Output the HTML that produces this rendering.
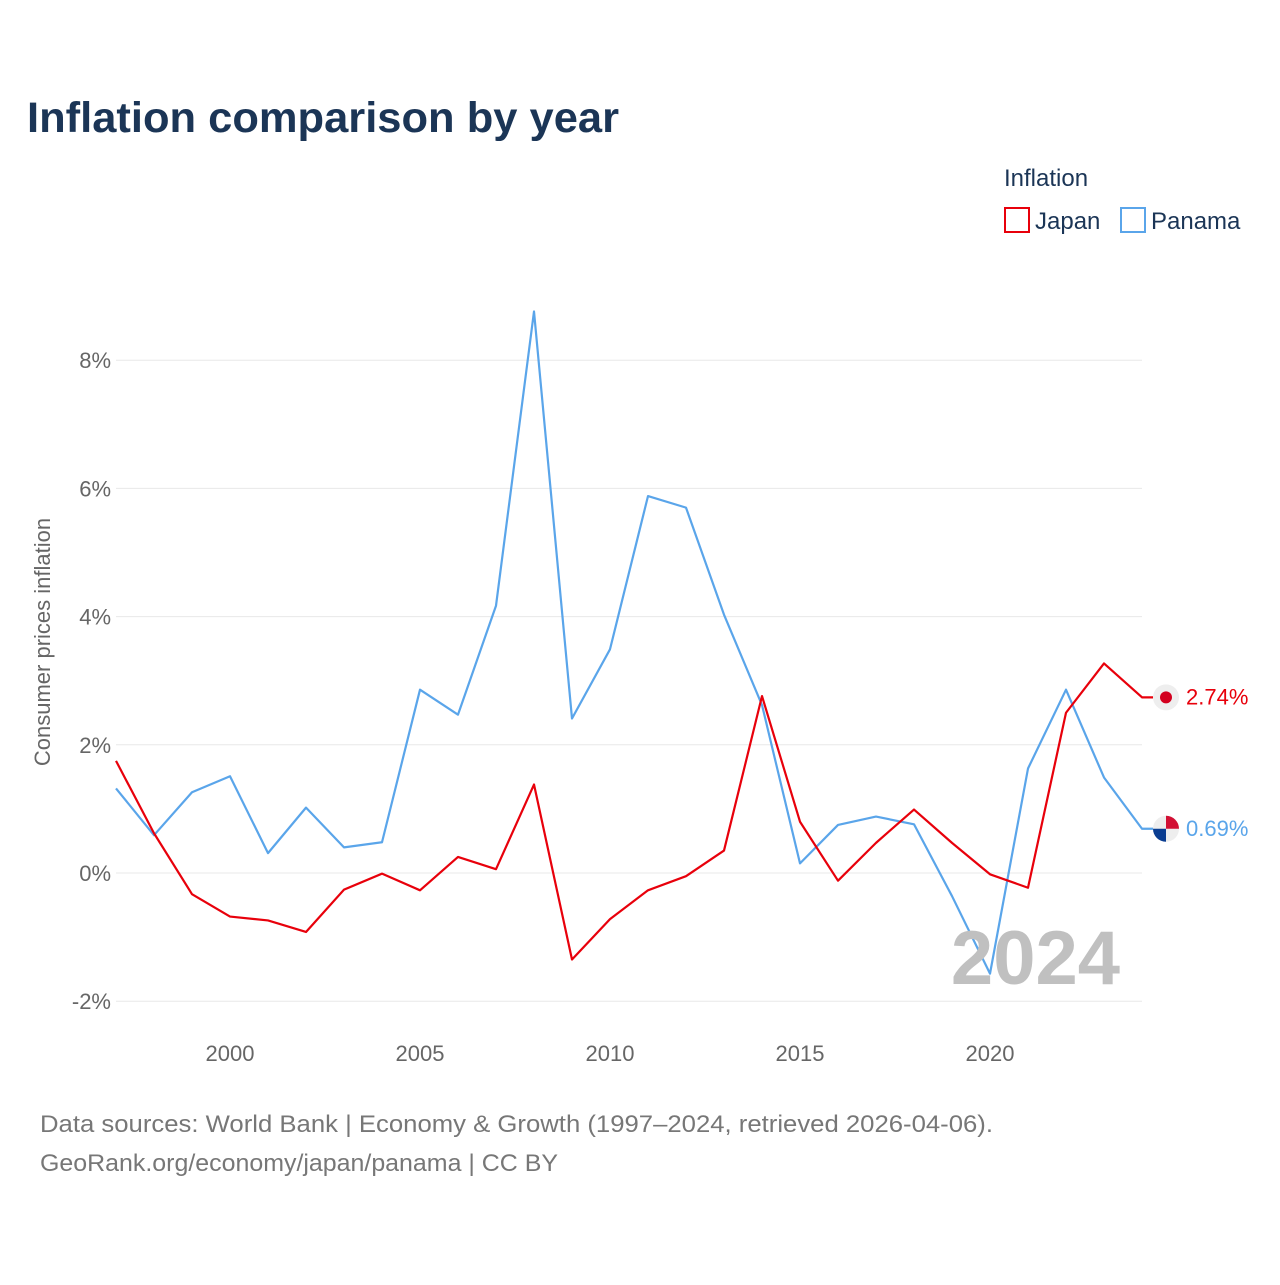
<!DOCTYPE html>
<html><head><meta charset="utf-8">
<style>
body{margin:0;background:#fff;font-family:"Liberation Sans",sans-serif;}
svg text{font-family:"Liberation Sans",sans-serif;}
</style></head>
<body>
<svg id="chart" width="1280" height="1280" viewBox="0 0 1280 1280">
<rect width="1280" height="1280" fill="#fff"/>
<text x="27" y="132" font-size="43" font-weight="bold" fill="#1b3556" textLength="592" lengthAdjust="spacingAndGlyphs">Inflation comparison by year</text>
<text x="1004" y="186" font-size="24" fill="#1b3556">Inflation</text>
<g><rect x="1005" y="208" width="24" height="24" fill="none" stroke="#e8000b" stroke-width="2"/><text x="1035" y="229" font-size="24" fill="#1b3556">Japan</text></g>
<g><rect x="1121" y="208" width="24" height="24" fill="none" stroke="#5aa5ea" stroke-width="2"/><text x="1151" y="229" font-size="24" fill="#1b3556">Panama</text></g>
<text transform="translate(50,642) rotate(-90)" text-anchor="middle" font-size="22" fill="#666">Consumer prices inflation</text>
<g id="grid"></g><g id="series"></g>
<text x="1120" y="984" text-anchor="end" font-size="76" font-weight="bold" fill="#c0c0c0">2024</text>
<text x="40" y="1132" font-size="24" fill="#777" textLength="953" lengthAdjust="spacingAndGlyphs">Data sources: World Bank | Economy &amp; Growth (1997–2024, retrieved 2026-04-06).</text>
<text x="40" y="1171" font-size="24" fill="#777" textLength="518" lengthAdjust="spacingAndGlyphs">GeoRank.org/economy/japan/panama | CC BY</text>
</svg>
<script>
const years=[1997,1998,1999,2000,2001,2002,2003,2004,2005,2006,2007,2008,2009,2010,2011,2012,2013,2014,2015,2016,2017,2018,2019,2020,2021,2022,2023,2024];
const japan=[1.75,0.62,-0.33,-0.68,-0.74,-0.92,-0.26,-0.01,-0.27,0.25,0.06,1.38,-1.35,-0.72,-0.27,-0.05,0.35,2.76,0.80,-0.12,0.47,0.99,0.47,-0.02,-0.23,2.50,3.27,2.74];
const panama=[1.32,0.59,1.26,1.51,0.31,1.02,0.40,0.48,2.86,2.47,4.17,8.76,2.41,3.49,5.88,5.70,4.03,2.62,0.15,0.75,0.88,0.76,-0.36,-1.57,1.63,2.86,1.49,0.69];
const yTicks=[-2,0,2,4,6,8];
const xTicks=[2000,2005,2010,2015,2020];
const NS="http://www.w3.org/2000/svg";
const xs=y=>116+(y-1997)*38;
const ys=v=>873-v*64.1;
const grid=document.getElementById('grid'),ser=document.getElementById('series');
function mk(tag,attrs,parent){const e=document.createElementNS(NS,tag);for(const k in attrs)e.setAttribute(k,attrs[k]);parent.appendChild(e);return e;}
yTicks.forEach(t=>{
 const l=mk('line',{x1:116,x2:1142,y1:ys(t),y2:ys(t),stroke:'#e8e8e8','stroke-width':1},grid);
 
 
 const tx=mk('text',{x:111,y:ys(t)+8,'text-anchor':'end','font-size':22,fill:'#666'},grid);tx.textContent=t+'%';
 
 
});
xTicks.forEach(t=>{
 const tx=mk('text',{x:xs(t),y:1061,'text-anchor':'middle','font-size':22,fill:'#666'},grid);tx.textContent=t;
 
 
});
function line(vals,color,name){
 let d=vals.map((v,i)=>(i?'L':'M')+xs(years[i])+','+ys(v)).join(' ');
 d+=' L'+(xs(years[years.length-1])+11)+','+ys(vals[vals.length-1]);
 const p=mk('path',{d:d,fill:'none',stroke:color,'stroke-width':2.2,'stroke-linejoin':'round'},ser);
 
 
 const last=vals[vals.length-1];
 const c=mk('circle',{cx:1166,cy:ys(last),r:13,fill:'#eee'},ser);
 
 
 const tx=mk('text',{x:1186,y:ys(last)+7,'font-size':22,fill:color},ser);tx.textContent=last.toFixed(2)+'%';
 
 
 return ys(last);
}
line(panama,'#5aa5ea','panama');
const jy=line(japan,'#e8000b','japan');
mk('circle',{cx:1166,cy:jy,r:6,fill:'#d3001f'},ser);
const py=ys(panama[panama.length-1]);
mk('path',{d:`M1166,${py} L1166,${py-13} A13,13 0 0 1 1179,${py} Z`,fill:'#d21034'},ser);
mk('path',{d:`M1166,${py} L1153,${py} A13,13 0 0 0 1166,${py+13} Z`,fill:'#0a3d91'},ser);
</script>
</body></html>
